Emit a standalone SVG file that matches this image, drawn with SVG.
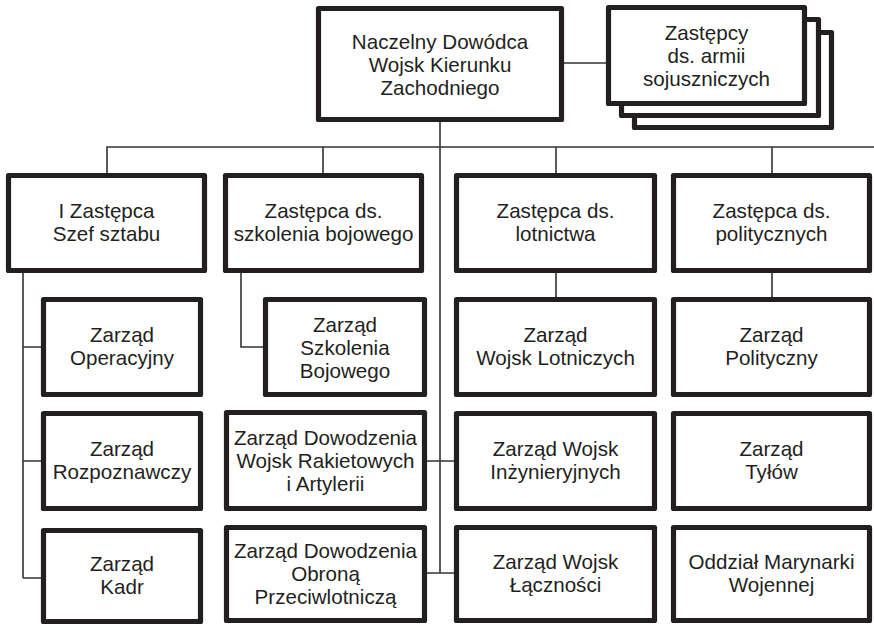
<svg xmlns="http://www.w3.org/2000/svg" width="874" height="626" viewBox="0 0 874 626">
<style>
.b{fill:#fff;stroke:#231f20;stroke-width:5.2;stroke-linejoin:round}
.c{fill:none;stroke:#333;stroke-width:1.6}
.t{font-family:"Liberation Sans",Arial,sans-serif;font-size:20.6px;fill:#231f20;text-anchor:middle}
</style>
<rect width="874" height="626" fill="#fff"/>
<g id="connectors">
<path class="c" d="M440 122V573M564 63H606M107 173V147H874M323 147V173M556 147V173M772 147V173"/>
<path class="c" d="M23 273V578M23 347H41M23 461H41M23 578H41"/>
<path class="c" d="M241 273V347H263"/>
<path class="c" d="M556 273V297M772 273V297"/>
<path class="c" d="M427 461H454M427 573H454"/>
</g>
<g id="n0"><rect class="b" x="318.5" y="8.5" width="243" height="111"/>
<text class="t"><tspan x="440" y="49">Naczelny Dowódca</tspan><tspan x="440" y="72">Wojsk Kierunku</tspan><tspan x="440" y="95">Zachodniego</tspan></text></g>
<g id="stack">
<rect class="b" x="634.5" y="32.5" width="197" height="95"/>
<rect class="b" x="621.5" y="19.5" width="197" height="96"/>
<rect class="b" x="608.5" y="7.5" width="196" height="96"/>
<text class="t"><tspan x="706.5" y="40">Zastępcy</tspan><tspan x="706.5" y="63">ds. armii</tspan><tspan x="706.5" y="86">sojuszniczych</tspan></text></g>
<g id="d1"><rect class="b" x="8.5" y="175.5" width="196" height="95"/>
<text class="t"><tspan x="106.5" y="218">I Zastępca</tspan><tspan x="106.5" y="241">Szef sztabu</tspan></text></g>
<g id="d2"><rect class="b" x="225.5" y="175.5" width="196" height="95"/>
<text class="t"><tspan x="323.5" y="218">Zastępca ds.</tspan><tspan x="323.5" y="241">szkolenia bojowego</tspan></text></g>
<g id="d3"><rect class="b" x="456.5" y="175.5" width="198" height="95"/>
<text class="t"><tspan x="555.5" y="218">Zastępca ds.</tspan><tspan x="555.5" y="241">lotnictwa</tspan></text></g>
<g id="d4"><rect class="b" x="673.5" y="175.5" width="196" height="95"/>
<text class="t"><tspan x="771.5" y="218">Zastępca ds.</tspan><tspan x="771.5" y="241">politycznych</tspan></text></g>
<g id="z11"><rect class="b" x="43.5" y="299.5" width="157" height="95"/>
<text class="t"><tspan x="122" y="342">Zarząd</tspan><tspan x="122" y="365">Operacyjny</tspan></text></g>
<g id="z12"><rect class="b" x="43.5" y="413.5" width="157" height="95"/>
<text class="t"><tspan x="122" y="456">Zarząd</tspan><tspan x="122" y="479">Rozpoznawczy</tspan></text></g>
<g id="z13"><rect class="b" x="43.5" y="530.5" width="157" height="91"/>
<text class="t"><tspan x="122" y="571">Zarząd</tspan><tspan x="122" y="594">Kadr</tspan></text></g>
<g id="z21"><rect class="b" x="265.5" y="299.5" width="159" height="95"/>
<text class="t"><tspan x="345" y="332">Zarząd</tspan><tspan x="345" y="355">Szkolenia</tspan><tspan x="345" y="378">Bojowego</tspan></text></g>
<g id="z22"><rect class="b" x="226.5" y="412.5" width="198" height="96"/>
<text class="t"><tspan x="325.5" y="445">Zarząd Dowodzenia</tspan><tspan x="325.5" y="468">Wojsk Rakietowych</tspan><tspan x="325.5" y="491">i Artylerii</tspan></text></g>
<g id="z23"><rect class="b" x="226.5" y="527.5" width="198" height="93"/>
<text class="t"><tspan x="325.5" y="558">Zarząd Dowodzenia</tspan><tspan x="325.5" y="581">Obroną</tspan><tspan x="325.5" y="604">Przeciwlotniczą</tspan></text></g>
<g id="z31"><rect class="b" x="456.5" y="299.5" width="198" height="95"/>
<text class="t"><tspan x="555.5" y="342">Zarząd</tspan><tspan x="555.5" y="365">Wojsk Lotniczych</tspan></text></g>
<g id="z32"><rect class="b" x="456.5" y="413.5" width="198" height="95"/>
<text class="t"><tspan x="555.5" y="456">Zarząd Wojsk</tspan><tspan x="555.5" y="479">Inżynieryjnych</tspan></text></g>
<g id="z33"><rect class="b" x="456.5" y="527.5" width="198" height="93"/>
<text class="t"><tspan x="555.5" y="569">Zarząd Wojsk</tspan><tspan x="555.5" y="592">Łączności</tspan></text></g>
<g id="z41"><rect class="b" x="673.5" y="299.5" width="196" height="95"/>
<text class="t"><tspan x="771.5" y="342">Zarząd</tspan><tspan x="771.5" y="365">Polityczny</tspan></text></g>
<g id="z42"><rect class="b" x="673.5" y="413.5" width="196" height="95"/>
<text class="t"><tspan x="771.5" y="456">Zarząd</tspan><tspan x="771.5" y="479">Tyłów</tspan></text></g>
<g id="z43"><rect class="b" x="673.5" y="527.5" width="196" height="93"/>
<text class="t"><tspan x="771.5" y="569">Oddział Marynarki</tspan><tspan x="771.5" y="592">Wojennej</tspan></text></g>
</svg>
